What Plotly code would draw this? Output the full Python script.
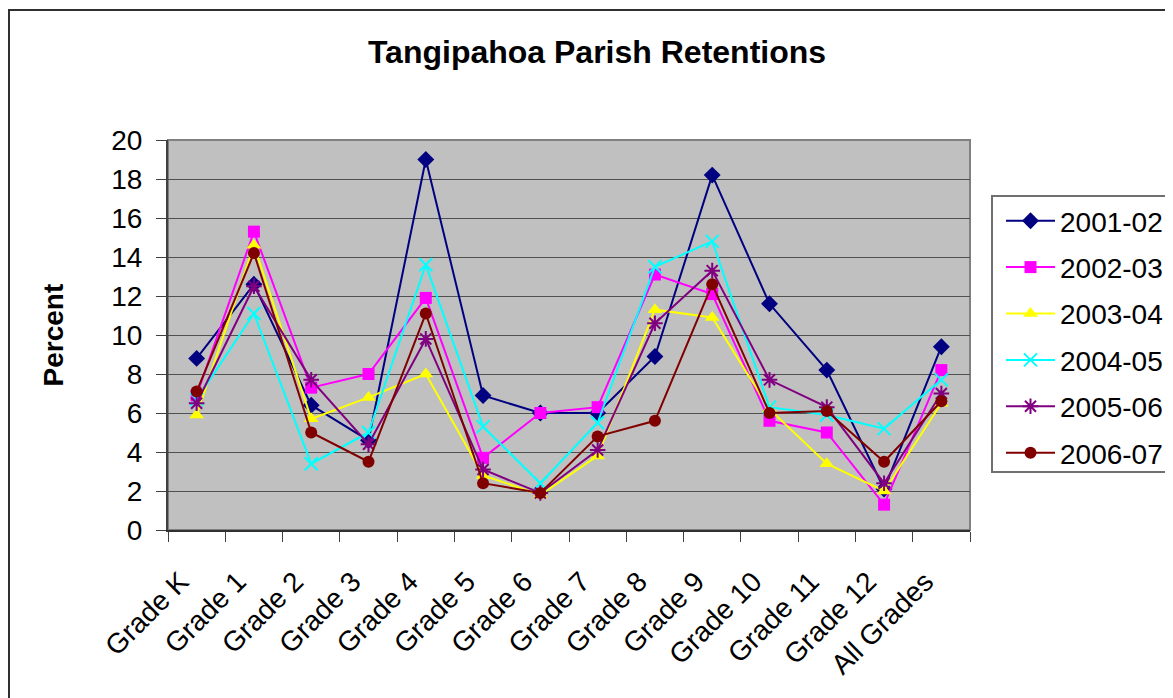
import plotly.graph_objects as go

categories = ["Grade K", "Grade 1", "Grade 2", "Grade 3", "Grade 4", "Grade 5", "Grade 6",
              "Grade 7", "Grade 8", "Grade 9", "Grade 10", "Grade 11", "Grade 12", "All Grades"]

s2001_02 = [8.8, 12.6, 6.4, 4.6, 19.0, 6.9, 6.0, 6.0, 8.9, 18.2, 11.6, 8.2, 2.1, 9.4]
s2002_03 = [6.9, 15.3, 7.3, 8.0, 11.9, 3.7, 6.0, 6.3, 13.1, 12.1, 5.6, 5.0, 1.3, 8.2]
s2003_04 = [5.9, 14.6, 5.7, 6.8, 8.0, 2.8, 1.8, 3.8, 11.3, 10.9, 6.2, 3.4, 2.0, 6.5]
s2004_05 = [6.7, 11.1, 3.4, 5.0, 13.6, 5.3, 2.4, 5.5, 13.5, 14.8, 6.3, 5.9, 5.2, 7.7]
s2005_06 = [6.5, 12.5, 7.7, 4.4, 9.8, 3.1, 1.9, 4.1, 10.6, 13.3, 7.7, 6.3, 2.4, 7.0]
s2006_07 = [7.1, 14.2, 5.0, 3.5, 11.1, 2.4, 1.9, 4.8, 5.6, 12.6, 6.0, 6.1, 3.5, 6.6]

series_names = ["2001-02", "2002-03", "2003-04", "2004-05", "2005-06", "2006-07"]
series_values = [s2001_02, s2002_03, s2003_04, s2004_05, s2005_06, s2006_07]
colors = ["#000080", "#FF00FF", "#FFFF00", "#00FFFF", "#800080", "#800000"]
symbols = ["diamond", "square", "triangle-up", "x-thin-open", "asterisk-open", "circle"]
sizes = [13, 12, 13, 13, 13, 12]

FONT = "Liberation Sans, Arial, sans-serif"

fig = go.Figure()
for name, vals, col, sym, sz in zip(series_names, series_values, colors, symbols, sizes):
    line_only = sym in ("x-thin-open", "asterisk-open")
    fig.add_trace(go.Scatter(
        x=categories, y=vals, name=name, mode="lines+markers",
        legendgroup=name,
        line=dict(color=col, width=2),
        marker=dict(symbol=sym, size=sz, color=col,
                    line=dict(color=col, width=2 if line_only else 0)),
    ))

# The page body has an 8px margin: figure origin sits at (8, 8) in the window.
OFF = 8
W, H = 1173 - OFF, 698 - OFF
# plot area in window pixels: x 168..970, y 140..530
PL, PR, PT, PB = 168, 970, 140, 530
L, R, T, B = PL - OFF, W - (PR - OFF), PT - OFF, H - (PB - OFF)
pw, ph = PR - PL, PB - PT


def px_x(x):
    return (x - PL) / pw


def px_y(y):
    return (PB - y) / ph


fig.update_layout(
    width=W, height=H,
    margin=dict(l=L, r=R, t=T, b=B, autoexpand=False),
    paper_bgcolor="white",
    plot_bgcolor="#C0C0C0",
    font=dict(family=FONT, color="black", size=28),
    title=dict(text="<b>Tangipahoa Parish Retentions</b>", x=(597 - OFF) / W, xanchor="center",
               y=1 - (52 - OFF) / H, yanchor="middle", yref="container",
               font=dict(family=FONT, size=32, color="black")),
    xaxis=dict(
        type="category", tickangle=-45, tickson="boundaries",
        ticks="outside", ticklen=10, tickcolor="#404040", tickwidth=1,
        showline=True, linecolor="#303030", linewidth=2, showgrid=False,
        tickfont=dict(family=FONT, size=28, color="black"),
        ticklabelstandoff=22, ticklabelshift=-16,
        range=[-0.5, 13.5], zeroline=False,
    ),
    yaxis=dict(
        range=[0, 20], dtick=2, ticks="outside", ticklen=10, tickcolor="#404040",
        showline=True, linecolor="#404040", linewidth=2,
        showgrid=True, gridcolor="#505050", gridwidth=1, zeroline=False,
        tickfont=dict(family=FONT, size=28, color="black"),
        ticklabelstandoff=8,
    ),
    showlegend=True,
    legend=dict(
        x=px_x(1001), y=px_y(196), xanchor="left", yanchor="top",
        bgcolor="rgba(0,0,0,0)", borderwidth=0,
        font=dict(family=FONT, size=28, color="black"),
        itemwidth=49, tracegroupgap=7, traceorder="grouped",
    ),
    annotations=[dict(
        text="<b>Percent</b>", x=px_x(52.5), y=px_y(335), xref="paper", yref="paper",
        textangle=-90, showarrow=False, xanchor="center", yanchor="middle",
        font=dict(family=FONT, size=28, color="black"),
    )],
    shapes=[
        # plot area border
        dict(type="rect", xref="paper", yref="paper", x0=0, x1=1, y0=0, y1=1,
             line=dict(color="#808080", width=2), layer="below"),
        # legend box
        dict(type="rect", xref="paper", yref="paper",
             x0=px_x(992), x1=px_x(1200), y0=px_y(472), y1=px_y(196),
             line=dict(color="#707070", width=2)),
        # outer chart border
        dict(type="rect", xref="paper", yref="paper",
             x0=px_x(9), x1=px_x(1200), y0=px_y(720), y1=px_y(10),
             line=dict(color="#303030", width=2)),
    ],
)

fig.write_html("out.html")
